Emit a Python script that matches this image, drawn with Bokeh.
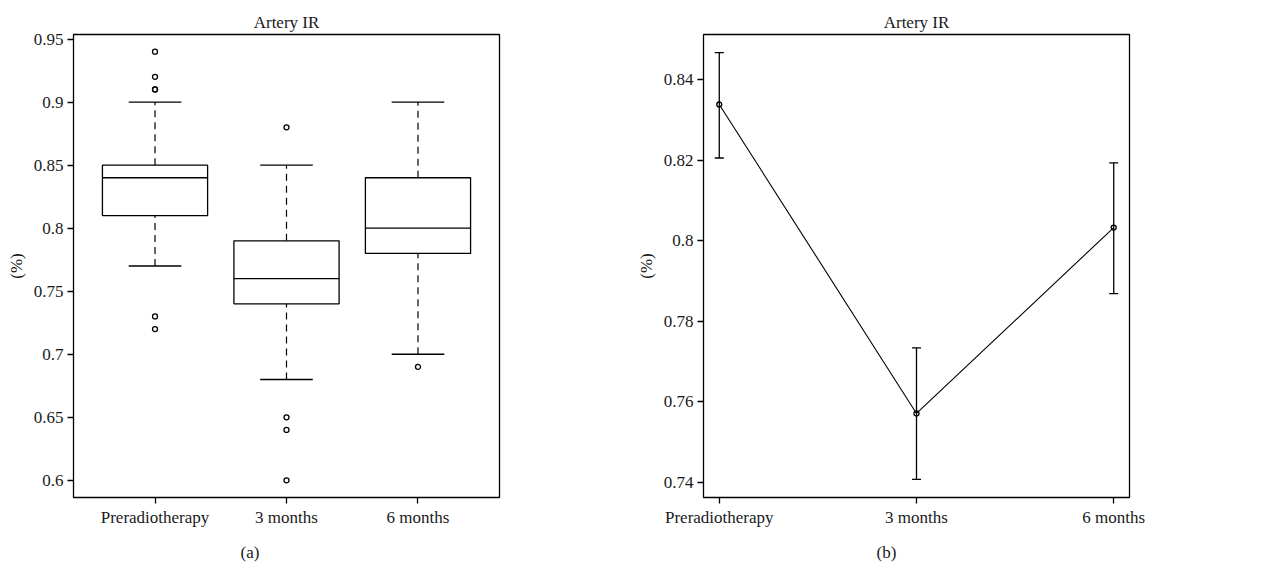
from bokeh.plotting import figure
from bokeh.layouts import row
from bokeh.models import FixedTicker, Title, Whisker, ColumnDataSource, TeeHead
from bokeh.embed import file_html
from bokeh.resources import INLINE

# ---- data ----
categories = ["Preradiotherapy", "3 months", "6 months"]
box_lower = [0.77, 0.68, 0.70]
box_q1 = [0.81, 0.74, 0.78]
box_median = [0.84, 0.76, 0.80]
box_q3 = [0.85, 0.79, 0.84]
box_upper = [0.90, 0.85, 0.90]
outlier_cat = [1, 1, 1, 1, 1, 1, 2, 2, 2, 2, 3]
outlier_val = [0.94, 0.92, 0.91, 0.91, 0.73, 0.72, 0.88, 0.65, 0.64, 0.60, 0.69]

mean_val = [0.8339, 0.7571, 0.8033]
mean_upper = [0.8468, 0.7734, 0.8194]
mean_lower = [0.8206, 0.7407, 0.7869]

left_ticks = [0.6, 0.65, 0.7, 0.75, 0.8, 0.85, 0.9, 0.95]
left_tick_labels = ["0.6", "0.65", "0.7", "0.75", "0.8", "0.85", "0.9", "0.95"]
right_ticks = [0.74, 0.76, 0.78, 0.80, 0.82, 0.84]
right_tick_labels = ["0.74", "0.76", "0.78", "0.8", "0.82", "0.84"]

FONT = "Liberation Serif"
FS = "17px"
TXT = "#1a1a1a"

xs = [1, 2, 3]


def style(p, yticks, ylabels):
    p.xgrid.visible = False
    p.ygrid.visible = False
    p.outline_line_color = "black"
    p.outline_line_width = 1.3
    p.background_fill_color = "white"
    p.border_fill_color = "white"
    for ax in (p.xaxis[0], p.yaxis[0]):
        ax.axis_line_color = None
        ax.major_tick_line_color = "black"
        ax.major_tick_line_width = 1.3
        ax.major_tick_out = 6
        ax.major_tick_in = 0
        ax.minor_tick_line_color = None
        ax.major_label_text_font = FONT
        ax.major_label_text_font_size = FS
        ax.major_label_text_color = TXT
        ax.major_label_standoff = 4
    p.xaxis.ticker = FixedTicker(ticks=xs)
    p.xaxis.major_label_overrides = {i + 1: c for i, c in enumerate(categories)}
    p.yaxis.ticker = FixedTicker(ticks=yticks)
    p.yaxis.major_label_overrides = {t: l for t, l in zip(yticks, ylabels)}
    p.yaxis.axis_label = "(%)"
    p.yaxis.axis_label_text_font = FONT
    p.yaxis.axis_label_text_font_style = "normal"
    p.yaxis.axis_label_text_font_size = FS
    p.yaxis.axis_label_text_color = TXT
    p.yaxis.axis_label_standoff = 5
    # top title
    p.title.text = "Artery IR"
    p.title.align = "center"
    p.title.text_font = FONT
    p.title.text_font_size = FS
    p.title.text_font_style = "normal"
    p.title.text_color = TXT
    p.title.standoff = 6


def add_caption(p, text, offset):
    p.add_layout(Title(text=text, align="left", offset=offset, text_font=FONT,
                       text_font_size=FS, text_font_style="normal", text_color=TXT,
                       standoff=23), "below")


H_TOP = 34
FRAME_H = 463
H_BOT = 74
FRAME_W = 426

# ---- left: boxplot ----
p1 = figure(frame_width=FRAME_W, frame_height=FRAME_H, x_range=(0.38, 3.62), y_range=(0.5864, 0.9536),
            output_backend="svg", toolbar_location=None,
            min_border_left=73, min_border_right=131, min_border_top=H_TOP, min_border_bottom=H_BOT)
style(p1, left_ticks, left_tick_labels)

half_box = 0.4
half_cap = 0.2
p1.segment(x0=xs, x1=xs, y0=box_q3, y1=box_upper, line_color="black", line_width=1.2, line_dash="7 5")
p1.segment(x0=xs, x1=xs, y0=box_lower, y1=box_q1, line_color="black", line_width=1.2, line_dash="7 5")
p1.vbar(x=xs, width=2 * half_box, bottom=box_q1, top=box_q3, fill_color="white",
        line_color="black", line_width=1.3)
p1.segment(x0=[x - half_box for x in xs], x1=[x + half_box for x in xs], y0=box_median, y1=box_median,
           line_color="black", line_width=1.3)
p1.segment(x0=[x - half_cap for x in xs], x1=[x + half_cap for x in xs], y0=box_upper, y1=box_upper,
           line_color="black", line_width=1.3)
p1.segment(x0=[x - half_cap for x in xs], x1=[x + half_cap for x in xs], y0=box_lower, y1=box_lower,
           line_color="black", line_width=1.3)
p1.scatter(x=outlier_cat, y=outlier_val, size=5, marker="circle", fill_color=None,
           line_color="black", line_width=1.3)
add_caption(p1, "(a)", 167)

# ---- right: means with error bars ----
p2 = figure(frame_width=FRAME_W, frame_height=FRAME_H, x_range=(0.92, 3.08), y_range=(0.7362, 0.8513),
            output_backend="svg", toolbar_location=None,
            min_border_left=73, min_border_right=50, min_border_top=H_TOP, min_border_bottom=H_BOT)
style(p2, right_ticks, right_tick_labels)

src = ColumnDataSource(dict(x=xs, m=mean_val, lo=mean_lower, up=mean_upper))
p2.line(x="x", y="m", source=src, line_color="black", line_width=1.1)
p2.add_layout(Whisker(base="x", lower="lo", upper="up", source=src, dimension="height",
                      line_color="black", line_width=1.3,
                      upper_head=TeeHead(size=9, line_color="black", line_width=1.3),
                      lower_head=TeeHead(size=9, line_color="black", line_width=1.3)))
p2.scatter(x="x", y="m", source=src, size=5, marker="circle", fill_color=None,
           line_color="black", line_width=1.3)
add_caption(p2, "(b)", 173)

layout = row(p1, p2, spacing=0)
open("out.html", "w").write(file_html(layout, INLINE))
